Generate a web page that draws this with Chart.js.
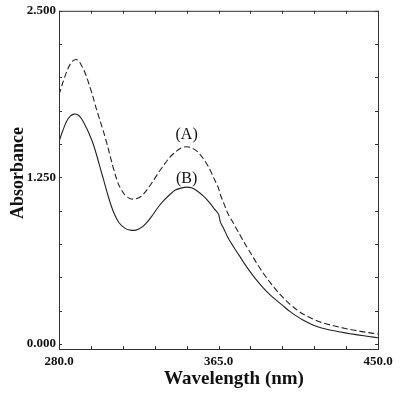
<!DOCTYPE html>
<html>
<head>
<meta charset="utf-8">
<script src="https://cdn.jsdelivr.net/npm/chart.js@4/dist/chart.umd.min.js"></script>
<style>
  html, body { margin: 0; padding: 0; background: #fff; }
  canvas { display: block; }
</style>
</head>
<body>
<canvas id="c" width="400" height="393"></canvas>
<script>
/* ── Data ── */
const wavelength = [280, 282, 284, 286, 288, 290, 292, 294, 296, 298, 300, 302, 304, 306, 308, 310, 312, 315, 318, 321,
                    324, 327, 330, 333, 336, 339, 342, 345, 348, 351, 354, 357, 360, 363, 365, 366, 368, 370, 373, 376,
                    379, 382, 385, 388, 391, 394, 397, 400, 403, 406, 410, 415, 420, 425, 430, 435, 440, 445, 450];
const absA = [1.87, 1.96, 2.04, 2.10, 2.13, 2.13, 2.09, 2.03, 1.95, 1.86, 1.76, 1.67, 1.58, 1.48, 1.37, 1.27, 1.19, 1.12, 1.09, 1.09,
              1.11, 1.16, 1.22, 1.285, 1.345, 1.40, 1.44, 1.47, 1.48, 1.47, 1.44, 1.39, 1.32, 1.23, 1.17, 1.12, 1.05, 0.98, 0.905, 0.83,
              0.755, 0.685, 0.615, 0.55, 0.49, 0.435, 0.385, 0.34, 0.30, 0.265, 0.225, 0.19, 0.162, 0.142, 0.125, 0.11, 0.097, 0.086, 0.075];
const absB = [1.52, 1.60, 1.67, 1.71, 1.725, 1.72, 1.69, 1.64, 1.58, 1.51, 1.42, 1.32, 1.22, 1.12, 1.03, 0.96, 0.91, 0.87, 0.855, 0.855,
              0.875, 0.915, 0.97, 1.03, 1.08, 1.12, 1.155, 1.17, 1.177, 1.17, 1.145, 1.11, 1.065, 1.01, 0.975, 0.915, 0.86, 0.80, 0.73, 0.665,
              0.60, 0.54, 0.485, 0.435, 0.39, 0.35, 0.315, 0.28, 0.245, 0.215, 0.18, 0.145, 0.12, 0.103, 0.09, 0.078, 0.067, 0.057, 0.047];

const xTicks = [280, 297, 314, 331, 348, 365, 382, 399, 416, 433, 450];
const xLabelled = [280, 365, 450];
const yTicks = [0, 0.25, 0.5, 0.75, 1, 1.25, 1.5, 1.75, 2, 2.25, 2.5];
const yLabelled = [0, 1.25, 2.5];

const seriesNames = ['(A)', '(B)'];
const xTitle = 'Wavelength (nm)';
const yTitle = 'Absorbance';

const SERIF = "'Liberation Serif', 'DejaVu Serif', serif";

/* ── Frame, inward ticks, labels ── */
const framePlugin = {
    id: 'frame',
    afterDraw(chart) {
        const { ctx, chartArea: a, scales: { x, y } } = chart;
        ctx.save();
        ctx.strokeStyle = '#333';
        ctx.lineWidth = 1;
        ctx.strokeRect(a.left + 0.5, a.top + 0.5, a.right - a.left, a.bottom - a.top);

        const tl = 3;
        ctx.beginPath();
        xTicks.forEach(v => {
            const px = Math.round(x.getPixelForValue(v)) + 0.5;
            ctx.moveTo(px, a.bottom); ctx.lineTo(px, a.bottom - tl);
            ctx.moveTo(px, a.top);    ctx.lineTo(px, a.top + tl);
        });
        yTicks.forEach(v => {
            const py = Math.round(y.getPixelForValue(v)) + 0.5;
            ctx.moveTo(a.left, py);  ctx.lineTo(a.left + tl, py);
            ctx.moveTo(a.right, py); ctx.lineTo(a.right - tl, py);
        });
        ctx.stroke();

        // series labels
        ctx.fillStyle = '#111';
        ctx.font = `16px ${SERIF}`;
        ctx.textAlign = 'center';
        ctx.textBaseline = 'middle';
        ctx.fillText(seriesNames[0], x.getPixelForValue(348), y.getPixelForValue(1.57));
        ctx.fillText(seriesNames[1], x.getPixelForValue(348), y.getPixelForValue(1.24));

        // axis titles
        ctx.font = `bold 19px ${SERIF}`;
        ctx.fillText(xTitle, 234, 379);
        ctx.font = `bold 18px ${SERIF}`;
        ctx.translate(18, 173);
        ctx.rotate(-Math.PI / 2);
        ctx.fillText(yTitle, 0, 0);
        ctx.restore();
    }
};

const pts = (ys) => wavelength.map((w, i) => ({ x: w, y: ys[i] }));

new Chart(document.getElementById('c').getContext('2d'), {
    type: 'line',
    data: {
        datasets: [
            { label: seriesNames[0], data: pts(absA), borderColor: '#222', borderWidth: 1.1,
              borderDash: [6, 3], pointRadius: 0, tension: 0.3 },
            { label: seriesNames[1], data: pts(absB), borderColor: '#222', borderWidth: 1.1,
              pointRadius: 0, tension: 0.3 },
        ],
    },
    options: {
        responsive: false,
        animation: false,
        layout: { padding: { left: 0, top: 10, right: 22, bottom: 0 } },
        plugins: { legend: { display: false }, tooltip: { enabled: false } },
        scales: {
            x: {
                type: 'linear', min: 280, max: 450,
                afterBuildTicks: s => { s.ticks = xTicks.map(v => ({ value: v })); },
                afterFit: s => { s.height = 44; },
                grid: { display: false, drawTicks: false },
                border: { display: false },
                ticks: {
                    autoSkip: false, maxRotation: 0, padding: 5, color: '#111',
                    font: { family: SERIF, size: 13, weight: 'bold' },
                    callback: v => xLabelled.includes(v) ? v.toFixed(1) : '',
                },
            },
            y: {
                type: 'linear', min: -0.037, max: 2.5,
                afterBuildTicks: s => { s.ticks = yTicks.map(v => ({ value: v })); },
                afterFit: s => { s.width = 59; },
                grid: { display: false, drawTicks: false },
                border: { display: false },
                ticks: {
                    autoSkip: false, padding: 3, color: '#111',
                    font: { family: SERIF, size: 13, weight: 'bold' },
                    callback: v => yLabelled.includes(v) ? v.toFixed(3) : '',
                },
            },
        },
    },
    plugins: [framePlugin],
});
</script>
</body>
</html>
